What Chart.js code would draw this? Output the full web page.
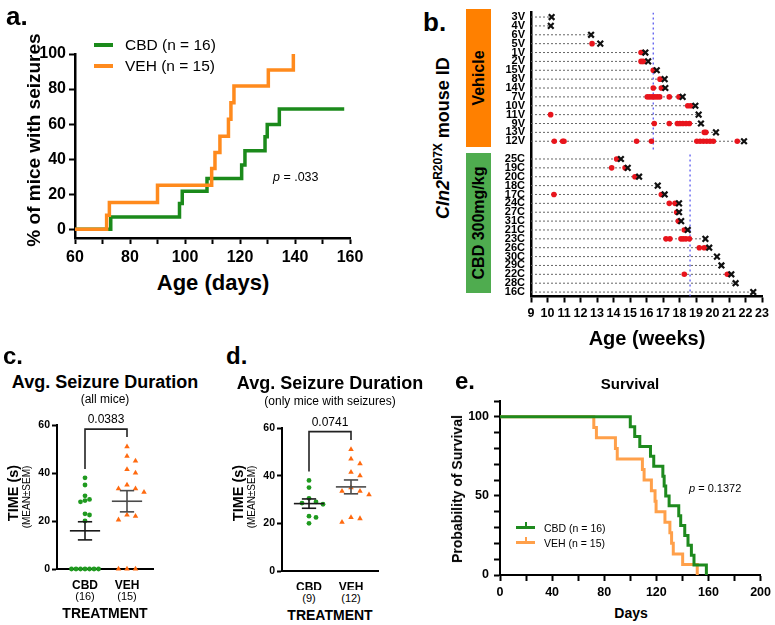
<!DOCTYPE html>
<html>
<head>
<meta charset="utf-8">
<script src="https://cdn.jsdelivr.net/npm/chart.js@4.4.1/dist/chart.umd.min.js"></script>
<style>
  body { margin: 0; background: #fff; width: 775px; height: 625px; position: relative; overflow: hidden;
         font-family: "Liberation Sans", Arial, Helvetica, sans-serif; color: #000; }
  canvas { position: absolute; }
  .t { position: absolute; white-space: nowrap; line-height: 1; }
  .bar { position: absolute; }
</style>
</head>
<body>
<canvas id="chartA" width="375" height="270" style="left:0;top:0"></canvas>
<canvas id="chartB" width="280" height="330" style="left:495px;top:0"></canvas>
<canvas id="chartC" width="170" height="190" style="left:0;top:400px"></canvas>
<canvas id="chartD" width="170" height="190" style="left:225px;top:400px"></canvas>
<canvas id="chartE" width="355" height="225" style="left:420px;top:380px"></canvas>

<script>
// ---- panel a: seizure onset (% of mice with seizures) ----
let cbdOnsetDays = [60, 73, 98, 99, 108, 120.6, 121.8, 129.1, 129.9, 134.3, 157.9];
let cbdOnsetPct  = [0, 7.0, 14.7, 21.7, 29.0, 36.6, 44.8, 52.8, 59.8, 68.6, 68.6];
let vehOnsetDays = [60, 71.5, 72.5, 90, 109.7, 110.9, 112.7, 115.8, 116.7, 117.8, 130.3, 139.4];
let vehOnsetPct  = [0, 8.0, 15.2, 25.1, 34.7, 43.8, 53.1, 62.7, 72.2, 81.7, 90.9, 100];
let ageTicksA = [60, 70, 80, 90, 100, 110, 120, 130, 140, 150, 160];
let pctTicksA = [0, 20, 40, 60, 80, 100];

// ---- panel b: seizure events (red) and death (x) per mouse, in weeks ----
let vehIds = ['3V', '4V', '6V', '5V', '1V', '2V', '15V', '8V', '14V', '7V', '10V', '11V', '9V', '13V', '12V'];
let vehDeath = [10.25, 10.2, 12.64, 13.2, 15.93, 16.1, 16.62, 17.1, 17.14, 18.19, 18.96, 19.16, 19.3, 20.21, 21.91];
let vehSeizures = [[], [], [], [12.7], [15.67, 15.77], [15.67, 15.8], [16.41], [16.82], [16.41, 16.9],
  [16.05, 16.2, 16.35, 16.5, 16.65, 16.8, 17.38, 17.97], [18.5, 18.68], [10.19],
  [16.47, 17.38, 17.87, 18.02, 18.2, 18.4, 18.6], [19.5, 19.6],
  [10.41, 10.92, 11.0, 15.4, 16.3, 19.05, 19.25, 19.45, 19.65, 19.85, 20.05, 21.5]];
let cbdIds = ['25C', '19C', '20C', '18C', '17C', '24C', '27C', '31C', '21C', '23C', '26C', '30C', '29C', '22C', '28C', '16C'];
let cbdDeath = [14.45, 14.86, 15.55, 16.68, 17.1, 17.97, 17.97, 18.1, 18.5, 19.57, 19.8, 20.27, 20.54, 21.14, 21.4, 22.47];
let cbdSeizures = [[14.19], [13.89, 14.7], [15.3], [], [10.39, 16.9], [17.38, 17.73], [17.83], [17.93], [18.29],
  [17.18, 17.42, 18.09, 18.23, 18.39, 18.6], [19.2, 19.5], [], [], [18.29, 20.9], [], []];
let vehMedianWeek = 16.41;
let cbdMedianWeek = 18.64;
let weekTicks = [9, 10, 11, 12, 13, 14, 15, 16, 17, 18, 19, 20, 21, 22, 23];

// ---- panels c, d: average seizure duration (s) ----
let cbdDurAll = [38, 35, 30.5, 29, 28.5, 28, 23, 22.5, 20, 0, 0, 0, 0, 0, 0, 0];
let vehDurAll = [51, 47, 45, 41.5, 40, 35, 33.5, 33.5, 32, 22.5, 22, 20.5, 0, 0, 0];
let cbdDurSeiz = [38, 35, 30.5, 29, 28.5, 28, 23, 22.5, 20];
let vehDurSeiz = [51, 47, 45, 41.5, 40, 35, 33.5, 33.5, 32, 22.5, 22, 20.5];
let groupNames = ['CBD', 'VEH'];
let timeTicks = [0, 20, 40, 60];

// ---- panel e: survival ----
let cbdSurvDays = [0, 100, 103.4, 107.3, 115.5, 118, 125, 126, 127.2, 129.8, 137.2, 138.7, 141.8, 144.3, 146.9, 148.9, 158.4];
let cbdSurvPct  = [100, 93.75, 87.5, 81.25, 75, 68.75, 62.5, 56.25, 50, 43.75, 37.5, 31.25, 25, 18.75, 12.5, 6.25, 0];
let vehSurvDays = [0, 72, 74, 88.6, 90, 109.3, 110.6, 116.2, 119, 119.8, 126.6, 130.4, 131.7, 133, 140.2, 151.4];
let vehSurvPct  = [100, 93.3, 86.7, 80, 73.3, 66.7, 60, 53.3, 46.7, 40, 33.3, 26.7, 20, 13.3, 6.7, 0];
let dayTicksE = [0, 20, 40, 60, 80, 100, 120, 140, 160, 180, 200];
let survTicksE = [0, 10, 20, 30, 40, 50, 60, 70, 80, 90, 100, 110];

Chart.defaults.font.family = "'Liberation Sans', Arial, Helvetica, sans-serif";
Chart.defaults.color = '#000';

function label(html, x, y, css, rot, left) {
  let d = document.createElement('div');
  d.className = 't';
  d.innerHTML = html;
  d.style.cssText = 'left:' + x + 'px;top:' + y + 'px;' + (css || '');
  d.style.transform = (left ? 'translate(0,-50%)' : 'translate(-50%,-50%)') + (rot ? ' rotate(-90deg)' : '');
  document.body.appendChild(d);
}
function box(x, y, w, h, color) {
  let d = document.createElement('div');
  d.className = 'bar';
  d.style.cssText = 'left:' + x + 'px;top:' + y + 'px;width:' + w + 'px;height:' + h + 'px;background:' + color;
  document.body.appendChild(d);
}
function pts(xs, ys) { return xs.map((x, i) => ({ x: x, y: ys[i] })); }
function fixTicks(list) { return s => { s.ticks = list.map(v => ({ value: v })); }; }

let baseOpts = {
  responsive: false,
  animation: false,
  events: [],
  plugins: { legend: { display: false }, tooltip: { enabled: false } }
};

// ================= panel a =================
new Chart(document.getElementById('chartA'), {
  type: 'line',
  data: {
    datasets: [
      { label: 'VEH (n = 15)', data: pts(vehOnsetDays, vehOnsetPct), borderColor: '#ff8a1d', borderWidth: 3.5,
        stepped: 'before', pointRadius: 0, clip: false, order: 0 },
      { label: 'CBD (n = 16)', data: pts(cbdOnsetDays, cbdOnsetPct), borderColor: '#1b8a1b', borderWidth: 3.5,
        stepped: 'before', pointRadius: 0, clip: false, order: 1 }
    ]
  },
  options: Object.assign({}, baseOpts, {
    layout: { padding: { left: 0, top: 54, right: 25, bottom: 0 }, autoPadding: false },
    scales: {
      x: {
        type: 'linear', min: 60, max: 160,
        afterFit: s => { s.height = 32; },
        afterBuildTicks: fixTicks(ageTicksA),
        grid: { drawOnChartArea: false, tickLength: 6, tickColor: '#000', tickWidth: 2 },
        border: { color: '#000', width: 2.5 },
        ticks: { autoSkip: false, maxRotation: 0, padding: 4, font: { size: 16, weight: 'bold' },
                 callback: v => (v % 20 === 0 ? v : '') }
      },
      y: {
        type: 'linear', min: -5, max: 100,
        afterFit: s => { s.width = 75; },
        afterBuildTicks: fixTicks(pctTicksA),
        grid: { drawOnChartArea: false, tickLength: 6, tickColor: '#000', tickWidth: 2 },
        border: { color: '#000', width: 2.5 },
        ticks: { autoSkip: false, padding: 3, font: { size: 16, weight: 'bold' } }
      }
    }
  })
});
label('a.', 6, 16, 'font-size:26px;font-weight:bold', false, true);
label('% of mice with seizures', 33, 140, 'font-size:19px;font-weight:bold', true);
label('Age (days)', 213, 283, 'font-size:22px;font-weight:bold');
box(94, 43, 19, 4, '#1b8a1b');
box(94, 64, 19, 4, '#ff8a1d');
label('CBD (n = 16)', 125, 45, 'font-size:15.5px', false, true);
label('VEH (n = 15)', 125, 66, 'font-size:15.5px', false, true);
label('<i>p</i> = .033', 273, 177, 'font-size:12.5px', false, true);

// ================= panel b =================
let rowIds = vehIds.concat([''], cbdIds);
let mice = [];
vehIds.forEach((id, i) => mice.push({ row: i, death: vehDeath[i], seiz: vehSeizures[i] }));
cbdIds.forEach((id, i) => mice.push({ row: vehIds.length + 1 + i, death: cbdDeath[i], seiz: cbdSeizures[i] }));

let bSets = [];
mice.forEach(m => {
  bSets.push({ data: [{ x: weekTicks[0], y: m.row }, { x: m.death, y: m.row }], showLine: true,
    borderColor: '#666', borderWidth: 1, borderDash: [2, 2], pointRadius: 0, order: 5 });
});
bSets.push({ data: [{ x: vehMedianWeek, y: -0.5 }, { x: vehMedianWeek, y: vehIds.length }], showLine: true,
  borderColor: '#5a5af0', borderWidth: 1.3, borderDash: [2, 3], pointRadius: 0, order: 4 });
bSets.push({ data: [{ x: cbdMedianWeek, y: vehIds.length + 0.5 }, { x: cbdMedianWeek, y: rowIds.length - 0.5 }], showLine: true,
  borderColor: '#5a5af0', borderWidth: 1.3, borderDash: [2, 3], pointRadius: 0, order: 4 });
let seizPts = [];
mice.forEach(m => m.seiz.forEach(w => seizPts.push({ x: w, y: m.row })));
bSets.push({ label: 'seizure', data: seizPts, pointRadius: 2.8, pointBackgroundColor: '#e8141c',
  pointBorderWidth: 0, order: 2 });
bSets.push({ label: 'death', data: mice.map(m => ({ x: m.death, y: m.row })), pointStyle: 'crossRot',
  pointRadius: 4, pointBorderColor: '#111', pointBorderWidth: 2.2, order: 1 });

new Chart(document.getElementById('chartB'), {
  type: 'scatter',
  data: { datasets: bSets },
  options: Object.assign({}, baseOpts, {
    layout: { padding: { left: 0, top: 9.5, right: 13, bottom: 0 }, autoPadding: false },
    scales: {
      x: {
        type: 'linear', min: 9, max: 23,
        afterFit: s => { s.height = 33.5; },
        afterBuildTicks: fixTicks(weekTicks),
        grid: { drawOnChartArea: false, tickLength: 6, tickColor: '#000', tickWidth: 2 },
        border: { color: '#000', width: 2.5 },
        ticks: { autoSkip: false, maxRotation: 0, padding: 4, font: { size: 12.5, weight: 'bold' } }
      },
      y: {
        type: 'linear', reverse: true, min: -0.5, max: rowIds.length - 0.5,
        afterFit: s => { s.width = 36; },
        afterBuildTicks: s => { s.ticks = rowIds.map((id, i) => ({ value: i })).filter(t => rowIds[t.value] !== ''); },
        grid: { drawOnChartArea: false, drawTicks: false },
        border: { color: '#000', width: 2.5 },
        ticks: { autoSkip: false, padding: 6, font: { size: 11, weight: 'bold' }, callback: v => rowIds[v] }
      }
    }
  })
});
label('b.', 423, 22, 'font-size:26px;font-weight:bold', false, true);
box(466, 9, 25, 138, '#ff8000');
box(466, 153, 25, 140, '#4fac4f');
label('Vehicle', 478.5, 78, 'font-size:16px;font-weight:bold', true);
label('CBD 300mg/kg', 478.5, 223, 'font-size:16px;font-weight:bold', true);
label('<i>Cln2</i><sup style="font-size:12px">R207X</sup> mouse ID', 442, 138, 'font-size:18px;font-weight:bold', true);
label('Age (weeks)', 647, 338, 'font-size:20px;font-weight:bold');

// ================= panels c, d =================
function swarm(vals, pxY, pxX, gap) {
  let order = vals.map((v, i) => i).sort((a, b) => vals[b] - vals[a]);
  let placed = [];
  let off = vals.map(() => 0);
  order.forEach(i => {
    let cands = [0];
    for (let k = 1; k < 40; k++) cands.push(k * gap / 2, -k * gap / 2);
    for (let c of cands) {
      if (placed.every(p => Math.hypot(p.x - c, (p.v - vals[i]) * pxY) >= gap - 0.01)) {
        off[i] = c / pxX;
        placed.push({ x: c, v: vals[i] });
        break;
      }
    }
  });
  return off;
}
function meanSem(vals) {
  let n = vals.length;
  let m = vals.reduce((a, b) => a + b, 0) / n;
  let sd = Math.sqrt(vals.reduce((a, b) => a + (b - m) * (b - m), 0) / (n - 1));
  return [m, sd / Math.sqrt(n)];
}
function errSets(xc, vals, color) {
  let ms = meanSem(vals);
  let m = ms[0], s = ms[1];
  let common = { showLine: true, borderColor: color, borderWidth: 1.6, pointRadius: 0, clip: false, order: 0 };
  return [
    Object.assign({ data: [{ x: xc - 0.36, y: m }, { x: xc + 0.36, y: m }] }, common),
    Object.assign({ data: [{ x: xc, y: m - s }, { x: xc, y: m + s }] }, common),
    Object.assign({ data: [{ x: xc - 0.17, y: m + s }, { x: xc + 0.17, y: m + s }] }, common),
    Object.assign({ data: [{ x: xc - 0.17, y: m - s }, { x: xc + 0.17, y: m - s }] }, common)
  ];
}
function durationChart(id, cbdVals, vehVals, padTop, axisH, xMin, xMax, pxY, gapC, gapV, bracketTop) {
  let offC = swarm(cbdVals, pxY, 42, gapC);
  let offV = swarm(vehVals, pxY, 42, gapV);
  let sets = [
    { data: cbdVals.map((v, i) => ({ x: 1 + offC[i], y: v })), pointRadius: 2.4, pointBackgroundColor: '#1f9a1f',
      pointBorderWidth: 0, clip: false, order: 2 },
    { data: vehVals.map((v, i) => ({ x: 2 + offV[i], y: v })), pointStyle: 'triangle', pointRadius: 3.2,
      pointBackgroundColor: '#ff6a10', pointBorderWidth: 0, clip: false, order: 2 },
    { data: [{ x: 1, y: Math.max.apply(null, cbdVals) + 3.7 }, { x: 1, y: bracketTop }, { x: 2, y: bracketTop },
             { x: 2, y: Math.max.apply(null, vehVals) + 4 }],
      showLine: true, borderColor: '#222', borderWidth: 1.6, pointRadius: 0, clip: false, order: 1 }
  ].concat(errSets(1, cbdVals, '#1a1a1a'), errSets(2, vehVals, '#4a4a4a'));
  new Chart(document.getElementById(id), {
    type: 'scatter',
    data: { datasets: sets },
    options: Object.assign({}, baseOpts, {
      layout: { padding: { left: 0, top: padTop, right: 17, bottom: 0 }, autoPadding: false },
      scales: {
        x: {
          type: 'linear', min: xMin, max: xMax,
          afterFit: s => { s.height = axisH; },
          afterBuildTicks: fixTicks([1, 2]),
          grid: { drawOnChartArea: false, drawTicks: false },
          border: { color: '#000', width: 2 },
          ticks: { autoSkip: false, maxRotation: 0, padding: 9, font: { size: 12, weight: 'bold' },
                   callback: v => groupNames[v - 1] }
        },
        y: {
          type: 'linear', min: 0, max: 60,
          afterFit: s => { s.width = 57; },
          afterBuildTicks: fixTicks(timeTicks),
          grid: { drawOnChartArea: false, tickLength: 5, tickColor: '#000', tickWidth: 2 },
          border: { color: '#000', width: 2 },
          ticks: { autoSkip: false, padding: 2, font: { size: 10.5, weight: 'bold' } }
        }
      }
    })
  });
}
durationChart('chartC', cbdDurAll, vehDurAll, 25, 21, 1 - 28 / 42, 2 + 26 / 42, 2.4, 4.5, 8.5, 58.3);
durationChart('chartD', cbdDurSeiz, vehDurSeiz, 28, 19, 1 - 27 / 42, 2 + 27 / 42, 2.383, 7, 9, 58.5);

label('c.', 3, 356, 'font-size:24px;font-weight:bold', false, true);
label('Avg. Seizure Duration', 105, 382, 'font-size:18px;font-weight:bold');
label('(all mice)', 105, 399, 'font-size:12px');
label('0.0383', 106, 419, 'font-size:12px');
label('TIME (s)', 13, 493, 'font-size:14.5px;font-weight:bold', true);
label('(MEAN±SEM)', 27, 497, 'font-size:10px', true);
label('(16)', 85, 596, 'font-size:11px');
label('(15)', 127, 596, 'font-size:11px');
label('TREATMENT', 105, 613, 'font-size:14px;font-weight:bold');

label('d.', 226, 356, 'font-size:24px;font-weight:bold', false, true);
label('Avg. Seizure Duration', 330, 383, 'font-size:18px;font-weight:bold');
label('(only mice with seizures)', 330, 401, 'font-size:12px');
label('0.0741', 330, 422, 'font-size:12px');
label('TIME (s)', 238, 493, 'font-size:14.5px;font-weight:bold', true);
label('(MEAN±SEM)', 252, 497, 'font-size:10px', true);
label('(9)', 309, 598, 'font-size:11px');
label('(12)', 351, 598, 'font-size:11px');
label('TREATMENT', 330, 615, 'font-size:14px;font-weight:bold');

// ================= panel e =================
new Chart(document.getElementById('chartE'), {
  type: 'line',
  data: {
    datasets: [
      { label: 'CBD (n = 16)', data: pts(cbdSurvDays, cbdSurvPct), borderColor: '#1e8a1e', borderWidth: 3,
        stepped: 'before', pointRadius: 0, clip: false, order: 0 },
      { label: 'VEH (n = 15)', data: pts(vehSurvDays, vehSurvPct), borderColor: '#ffa04a', borderWidth: 3,
        stepped: 'before', pointRadius: 0, clip: false, order: 1 }
    ]
  },
  options: Object.assign({}, baseOpts, {
    layout: { padding: { left: 0, top: 21, right: 14, bottom: 0 }, autoPadding: false },
    scales: {
      x: {
        type: 'linear', min: 0, max: 200,
        afterFit: s => { s.height = 30; },
        afterBuildTicks: fixTicks(dayTicksE),
        grid: { drawOnChartArea: false, tickLength: 6, tickColor: '#000', tickWidth: 2 },
        border: { color: '#000', width: 2 },
        ticks: { autoSkip: false, maxRotation: 0, padding: 4, font: { size: 12.5, weight: 'bold' },
                 callback: v => (v % 40 === 0 ? v : '') }
      },
      y: {
        type: 'linear', min: 0, max: 110,
        afterFit: s => { s.width = 80; },
        afterBuildTicks: fixTicks(survTicksE),
        grid: { drawOnChartArea: false, tickLength: 6, tickColor: '#000', tickWidth: 2 },
        border: { color: '#000', width: 2 },
        ticks: { autoSkip: false, padding: 5, font: { size: 12.5, weight: 'bold' },
                 callback: v => (v % 50 === 0 ? v : '') }
      }
    }
  })
});
label('e.', 455, 381, 'font-size:24px;font-weight:bold', false, true);
label('Survival', 630, 383, 'font-size:15px;font-weight:bold');
label('Probability of Survival', 457, 489, 'font-size:14px;font-weight:bold', true);
label('Days', 631, 613, 'font-size:14px;font-weight:bold');
label('<i>p</i> = 0.1372', 689, 488, 'font-size:11px', false, true);
box(516, 526, 19, 3, '#1e8a1e');
box(524.5, 522, 2, 5, '#1e8a1e');
box(516, 541, 19, 3, '#ffa04a');
box(524.5, 537, 2, 5, '#ffa04a');
label('CBD (n = 16)', 544, 527.5, 'font-size:10.5px', false, true);
label('VEH (n = 15)', 544, 542.5, 'font-size:10.5px', false, true);
</script>
</body>
</html>
